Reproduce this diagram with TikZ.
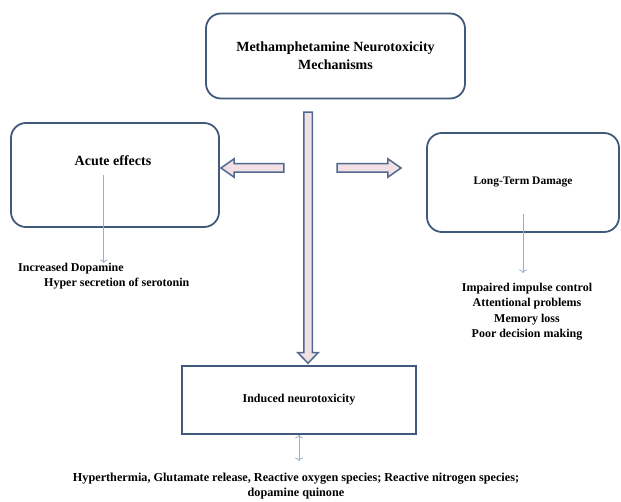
\documentclass[tikz,border=0pt]{standalone}
\usepackage{fontspec}
\setmainfont{Liberation Serif}
\usetikzlibrary{arrows,arrows.meta,shapes,positioning}

\definecolor{boxline}{HTML}{41597A}
\definecolor{arrline}{HTML}{52698F}
\definecolor{arrfill}{HTML}{F2E1E4}
\definecolor{thinline}{HTML}{98AEC8}

\begin{document}
\begin{tikzpicture}[x=1pt,y=-1pt]
      \tikzstyle{box}=[draw=boxline,line width=1.8pt,rounded corners=15pt]
      \tikzstyle{fat}=[single arrow,draw=arrline,fill=arrfill,line width=1.5pt,inner sep=3.5pt,minimum width=0pt]
      \tikzstyle{lst}=[font=\bfseries\fontsize{12}{15.3}\selectfont,inner sep=0pt]
      \tikzstyle{pointer}=[-{To[length=3.5pt,width=8pt]},draw=thinline,line width=0.8pt]

      \useasboundingbox (0,0) rectangle (621,502);

      \node[box,minimum width=259pt,minimum height=85pt,align=center,font=\bfseries\fontsize{14}{18}\selectfont](top) at (335.5,56){Methamphetamine Neurotoxicity\\Mechanisms};

      \node[box,minimum width=208pt,minimum height=104pt](acute) at (115,175){};
      \node[font=\bfseries\fontsize{14}{17}\selectfont](acutetxt) at (113,161){Acute effects};
      \node[lst,align=left,anchor=north west](acutelist) at (18,263){Increased Dopamine\\\hspace{26pt}Hyper secretion of serotonin};

      \node[box,minimum width=192pt,minimum height=99pt,font=\bfseries\fontsize{11.5}{14}\selectfont](longterm) at (523,182.5){Long-Term Damage};
      \node[lst,align=center,anchor=north](longlist) at (527,283){Impaired impulse control\\Attentional problems\\Memory loss\\Poor decision making};

      \node[draw=boxline,line width=1.8pt,minimum width=234pt,minimum height=68pt,font=\bfseries\fontsize{12}{15}\selectfont](induced) at (299,400){Induced neurotoxicity};
      \node[lst,font=\bfseries\fontsize{12.2}{15}\selectfont,align=center,anchor=north](effects) at (296,473){Hyperthermia, Glutamate release, Reactive oxygen species; Reactive nitrogen species;\\dopamine quinone};

      \node[fat,minimum height=251pt,single arrow head extend=6pt,single arrow tip angle=88,rotate=-90](down) at (308,235.5){};
      \node[fat,minimum height=63pt,single arrow head extend=5pt,single arrow tip angle=70,rotate=180](toacute) at (255.5,168){};
      \node[fat,minimum height=64pt,single arrow head extend=5pt,single arrow tip angle=70](tolong) at (366,168){};

      \path[pointer]
      (acute.center -| acutelist.north) edge (acutelist.north)
      (longterm.center) edge[shorten <=32pt,shorten >=10pt] (longterm.center |- longlist.north)
      (induced.south) edge[shorten >=12pt] (induced.south |- effects.north);
\end{tikzpicture}
\end{document}
